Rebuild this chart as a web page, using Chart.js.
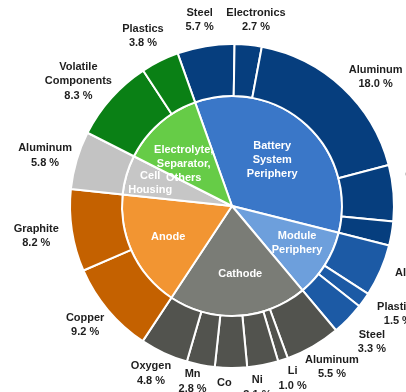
<!DOCTYPE html>
<html>
<head>
<meta charset="utf-8">
<script src="https://cdn.jsdelivr.net/npm/chart.js@4.4.1/dist/chart.umd.min.js"></script>
<style>
  html, body { margin: 0; padding: 0; background: #ffffff; }
  #wrap { width: 406px; height: 392px; }
</style>
</head>
<body>
<div id="wrap"><canvas id="pack" width="406" height="392"></canvas></div>
<script>
// Pack components (inner ring)
const components = ['Battery\nSystem\nPeriphery', 'Module\nPeriphery', 'Cathode', 'Anode', 'Cell\nHousing', 'Electrolyte,\nSeparator,\nOthers'];

// Materials of each component (outer ring), share of pack mass in %
const systemMaterials = ['Steel', 'Electronics', 'Aluminum', 'Copper', 'Plastics'];
const systemValues = [5.7, 2.7, 18.0, 5.6, 2.4];

const moduleMaterials = ['Aluminum', 'Plastics', 'Steel'];
const moduleValues = [5.2, 1.5, 3.3];

const cathodeMaterials = ['Aluminum', 'Li', 'Ni', 'Co', 'Mn', 'Oxygen'];
const cathodeValues = [5.5, 1.0, 3.1, 3.2, 2.8, 4.8];

const anodeMaterials = ['Copper', 'Graphite'];
const anodeValues = [9.2, 8.2];

const housingMaterials = ['Aluminum'];
const housingValues = [5.8];

const electrolyteMaterials = ['Volatile\nComponents', 'Plastics'];
const electrolyteValues = [8.3, 3.8];

const materialGroups = [systemValues, moduleValues, cathodeValues, anodeValues, housingValues, electrolyteValues];
const materialNames = [systemMaterials, moduleMaterials, cathodeMaterials, anodeMaterials, housingMaterials, electrolyteMaterials];

// Colours per component: inner (component) and outer (materials)
const innerColors = ['#3a77c8', '#6d9fdc', '#7a7c76', '#f29532', '#c6c6c6', '#66cc47'];
const outerColors = ['#063e7e', '#1c5aa5', '#52534e', '#c46100', '#c3c3c3', '#0a8015'];

// Build ring data
const outerValues = materialGroups.flat();
const outerLabels = materialNames.flat();
const outerFill = materialGroups.flatMap((g, i) => g.map(() => outerColors[i]));
const innerValues = materialGroups.map(g => g.reduce((a, b) => a + b, 0));

// Label placement: [angle shift in degrees, gap beyond the outer edge in px]
const outerLabelNudge = [
  [-0.5, 27], [1.6, 25.5], [5.1, 31], [-2.5, 32], [0, 40],
  [-2, 42], [-2.4, 36], [0, 33],
  [-1.8, 27.5], [-1, 21], [3, 21], [2, 22], [1.5, 18], [1, 24],
  [1, 27], [0, 36],
  [-1.4, 31.6],
  [-2.7, 36], [-1.2, 30]
];
// Inner labels: [angle shift in degrees, distance from centre in px]
const innerLabelNudge = [[-1, 61], [-2.3, 75], [-3.7, 68], [-0.7, 71], [-0.7, 85], [-7.6, 64]];

const FONT = 'bold 11px "Liberation Sans", Arial, Helvetica, sans-serif';

function drawLines(ctx, lines, x, y, lh) {
  const top = y - (lines.length - 1) * lh / 2;
  lines.forEach((t, k) => ctx.fillText(t, x, top + k * lh));
}

const ringLabels = {
  id: 'ringLabels',
  afterDatasetsDraw(chart) {
    const ctx = chart.ctx;
    ctx.save();
    ctx.font = FONT;
    ctx.textAlign = 'center';
    ctx.textBaseline = 'middle';

    // Outer ring: material name and share
    ctx.fillStyle = '#1e1e1e';
    chart.getDatasetMeta(0).data.forEach((arc, i) => {
      const p = arc.getProps(['x', 'y', 'startAngle', 'endAngle', 'outerRadius'], true);
      const [shift, gap] = outerLabelNudge[i];
      const a = (p.startAngle + p.endAngle) / 2 + shift * Math.PI / 180;
      const r = p.outerRadius + gap;
      const lines = outerLabels[i].split('\n').concat([outerValues[i].toFixed(1) + ' %']);
      drawLines(ctx, lines, p.x + Math.cos(a) * r, p.y + Math.sin(a) * r, 14.5);
    });

    // Inner ring: component names
    ctx.fillStyle = '#ffffff';
    chart.getDatasetMeta(1).data.forEach((arc, i) => {
      const p = arc.getProps(['x', 'y', 'startAngle', 'endAngle'], true);
      const [shift, dist] = innerLabelNudge[i];
      const a = (p.startAngle + p.endAngle) / 2 + shift * Math.PI / 180;
      drawLines(ctx, components[i].split('\n'), p.x + Math.cos(a) * dist, p.y + Math.sin(a) * dist, 14.2);
    });
    ctx.restore();
  }
};

new Chart(document.getElementById('pack'), {
  type: 'doughnut',
  data: {
    labels: outerLabels,
    datasets: [
      { data: outerValues, backgroundColor: outerFill, borderColor: '#ffffff', borderWidth: 2, weight: 52 },
      { data: innerValues, backgroundColor: innerColors, borderColor: '#ffffff', borderWidth: 2, weight: 110 }
    ]
  },
  options: {
    responsive: false,
    animation: false,
    devicePixelRatio: 1,
    cutout: 0,
    rotation: -19.6,
    layout: { padding: { left: 69, right: 11, top: 43, bottom: 23 } },
    plugins: { legend: { display: false }, tooltip: { enabled: false } }
  },
  plugins: [ringLabels]
});
</script>
</body>
</html>
